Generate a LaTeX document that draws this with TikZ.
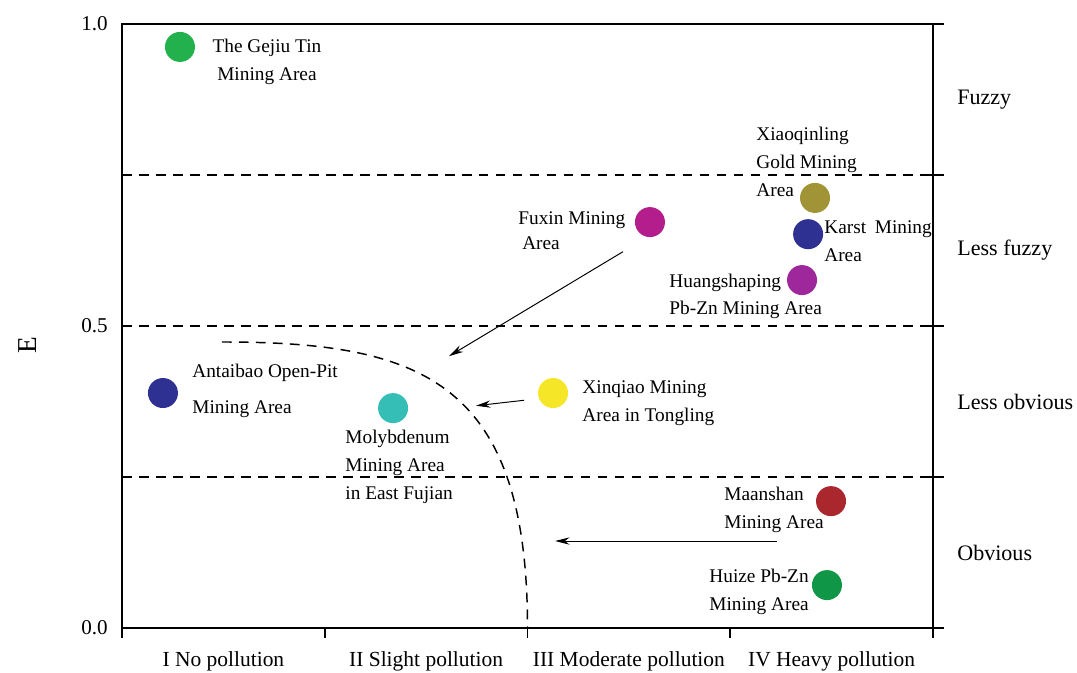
\documentclass[tikz,border=0pt]{standalone}
\usepackage{fontspec}
\setmainfont{Liberation Serif}
\usepackage{tikz}
\usetikzlibrary{arrows.meta}
\definecolor{tingreen}{RGB}{34,177,76}
\definecolor{goldolive}{RGB}{160,148,55}
\definecolor{karstblue}{RGB}{46,49,146}
\definecolor{hspurple}{RGB}{158,40,155}
\definecolor{fuxinpink}{RGB}{180,30,140}
\definecolor{molyteal}{RGB}{52,190,181}
\definecolor{xqyellow}{RGB}{245,230,40}
\definecolor{masred}{RGB}{170,40,45}
\definecolor{huizegreen}{RGB}{15,150,70}
\tikzset{
    site/.style={
        circle,
        minimum size=0.54cm,
        inner sep=0pt
    },
    sitelabel/.style={
        align=left,
        inner sep=0pt,
        font=\fontsize{9.9}{14.3}\selectfont
    },
    shiftarrow/.style={
        -{Stealth[length=2.6mm, width=1.3mm]},
        line width=0.5pt
    },
    gradeline/.style={
        line width=0.75pt,
        dash pattern=on 5pt off 3.7pt
    }
}

\begin{document}
\begin{tikzpicture}[x=3.6495cm, y=10.872cm]
    \useasboundingbox (-0.6017,-0.0745) rectangle (4.7102,1.0397);

    % Frame and ticks
    \draw[line width=1pt] (0,-0.0166) -- (0,1) -- (4.054,1);
    \draw[line width=1pt] (4,1) -- (4,-0.0166);
    \draw[line width=1pt] (0,0) -- (4.054,0);
    \draw[line width=1pt] (1,0) -- (1,-0.0166) (2,0) -- (2,-0.0166) (3,0) -- (3,-0.0166);
    \draw[line width=1pt] (0,0.75) -- (0.049,0.75) (0,0.5) -- (0.049,0.5) (0,0.25) -- (0.049,0.25);
    \draw[line width=1pt] (3.946,0.75) -- (4.054,0.75) (3.946,0.5) -- (4.054,0.5) (3.946,0.25) -- (4.054,0.25);

    % Grade borders
    \draw[gradeline] (0,0.75) -- (4,0.75);
    \draw[gradeline] (0,0.5) -- (4,0.5);
    \draw[gradeline] (0,0.25) -- (4,0.25);
    \draw[gradeline] (0.493,0.4735) .. controls (1.470,0.4735) and (2,0.4106) .. (2,0);

    % Axis labels
    \node[anchor=east, inner sep=0pt, font=\fontsize{10.8}{12}\selectfont] (t1) at (-0.069,1) {1.0};
    \node[anchor=east, inner sep=0pt, font=\fontsize{10.8}{12}\selectfont] (t5) at (-0.069,0.5) {0.5};
    \node[anchor=east, inner sep=0pt, font=\fontsize{10.8}{12}\selectfont] (t0) at (-0.069,0) {0.0};
    \node[rotate=90, font=\fontsize{14}{16}\selectfont] (elabel) at (-0.465,0.4685) {E};
    \node[font=\fontsize{11}{13}\selectfont] (c1) at (0.5,-0.0546) {I No pollution};
    \node[font=\fontsize{11}{13}\selectfont] (c2) at (1.5,-0.0546) {II Slight pollution};
    \node[font=\fontsize{11}{13}\selectfont] (c3) at (2.5,-0.0546) {III Moderate pollution};
    \node[font=\fontsize{11}{13}\selectfont] (c4) at (3.5,-0.0546) {IV Heavy pollution};
    \node[anchor=west, inner sep=0pt, font=\fontsize{11.3}{13}\selectfont] (fuzzy) at (4.118,0.875) {Fuzzy};
    \node[anchor=west, inner sep=0pt, font=\fontsize{11.3}{13}\selectfont] (lessfuzzy) at (4.118,0.625) {Less fuzzy};
    \node[anchor=west, inner sep=0pt, font=\fontsize{11.3}{13}\selectfont] (lessobv) at (4.118,0.375) {Less obvious};
    \node[anchor=west, inner sep=0pt, font=\fontsize{11.3}{13}\selectfont] (obvious) at (4.118,0.125) {Obvious};

    % Mining areas
    \node[site, fill=tingreen] (gejiu) at (0.286,0.962) {};
    \node[site, fill=goldolive] (xiaoqinling) at (3.418,0.712) {};
    \node[site, fill=karstblue] (karst) at (3.384,0.652) {};
    \node[site, fill=hspurple] (huangshaping) at (3.354,0.576) {};
    \node[site, fill=fuxinpink] (fuxin) at (2.604,0.672) {};
    \node[site, fill=karstblue] (antaibao) at (0.202,0.389) {};
    \node[site, fill=molyteal] (molybdenum) at (1.337,0.364) {};
    \node[site, fill=xqyellow] (xinqiao) at (2.126,0.389) {};
    \node[site, fill=masred] (maanshan) at (3.497,0.210) {};
    \node[site, fill=huizegreen] (huize) at (3.477,0.071) {};

    \node[sitelabel, align=center] (gejiulbl) at (0.715,0.938) {The Gejiu Tin\\Mining Area};
    \node[sitelabel, anchor=west] (xiaoqinlinglbl) at (3.127,0.772) {Xiaoqinling\\Gold Mining\\Area};
    \node[sitelabel, anchor=west] (karstlbl) at (3.462,0.640) {Karst\hspace{0.45em}Mining\\Area};
    \node[sitelabel, anchor=west] (huangshapinglbl) at (2.698,0.549) {Huangshaping\\Pb-Zn Mining Area};
    \node[sitelabel, anchor=west, font=\fontsize{9.9}{12.5}\selectfont] (fuxinlbl) at (1.953,0.658) {Fuxin Mining\\\hspace{2pt}Area};
    \node[sitelabel, anchor=west, font=\fontsize{9.9}{18.5}\selectfont] (antaibaolbl) at (0.345,0.392) {Antaibao Open-Pit\\Mining Area};
    \node[sitelabel, anchor=west] (molybdenumlbl) at (1.100,0.267) {Molybdenum\\Mining Area\\in East Fujian};
    \node[sitelabel, anchor=west] (xinqiaolbl) at (2.269,0.372) {Xinqiao Mining\\Area in Tongling};
    \node[sitelabel, anchor=west] (maanshanlbl) at (2.969,0.195) {Maanshan\\Mining Area};
    \node[sitelabel, align=center] (huizelbl) at (3.142,0.060) {Huize Pb-Zn\\Mining Area};

    % Shifts
    \coordinate (fxfrom) at (2.471,0.623);
    \coordinate (fxto) at (1.613,0.450);
    \coordinate (xqfrom) at (1.983,0.377);
    \coordinate (xqto) at (1.746,0.368);
    \coordinate (masfrom) at (3.231,0.144);
    \coordinate (masto) at (2.136,0.144);
    \draw[shiftarrow] (fxfrom) -- (fxto);
    \draw[shiftarrow] (xqfrom) -- (xqto);
    \draw[shiftarrow] (masfrom) -- (masto);
\end{tikzpicture}
\end{document}
